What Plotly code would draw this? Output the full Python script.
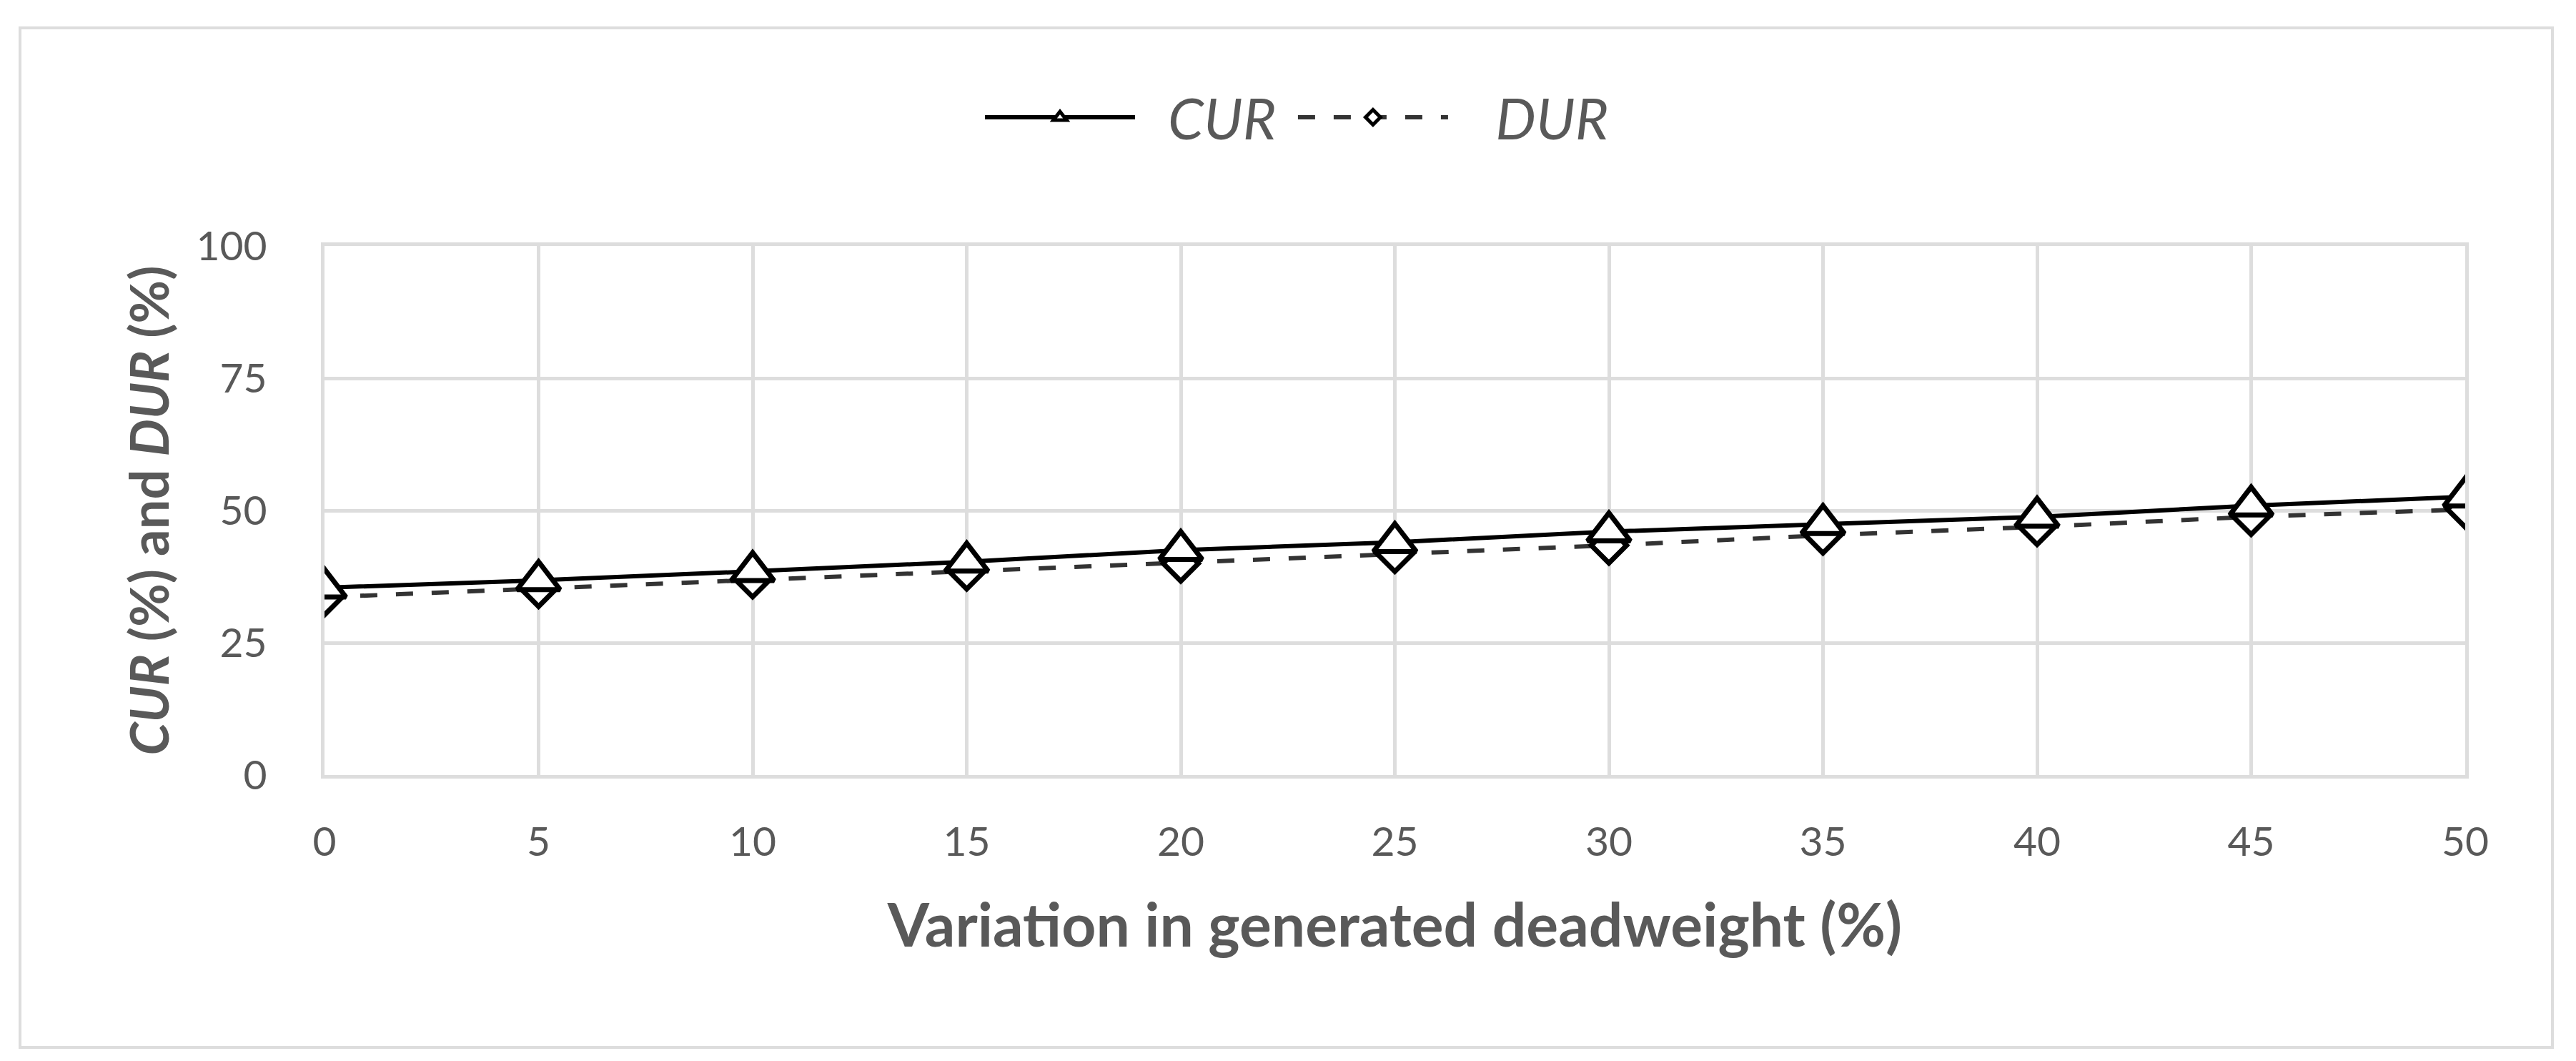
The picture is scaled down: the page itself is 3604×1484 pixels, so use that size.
import plotly.graph_objects as go

x_vals = [0, 5, 10, 15, 20, 25, 30, 35, 40, 45, 50]
cur_vals = [35.4, 36.8, 38.5, 40.3, 42.5, 44.0, 46.0, 47.4, 48.8, 50.9, 52.6]
dur_vals = [33.6, 35.2, 37.0, 38.5, 40.0, 41.8, 43.4, 45.3, 46.9, 48.8, 50.2]
x_ticks = [0, 5, 10, 15, 20, 25, 30, 35, 40, 45, 50]
y_ticks = [0, 25, 50, 75, 100]

W, H = 3604, 1484
L, R, T, B = 446, 3604 - 3441, 336, 1484 - 1076
pw, ph = W - L - R, H - T - B

def px(xp):
    return (xp - L) / pw

def py(yp):
    return (H - B - yp) / ph

FONT = "Lato"
GRAY = "#595959"
GRID = "#dddddd"
NB = "\u00a0"

fig = go.Figure()
# DUR drawn first so the CUR triangles sit on top (as in the reference)
fig.add_trace(go.Scatter(
    x=x_vals, y=dur_vals, name=NB * 3 + "<i>DUR</i>", mode="lines+markers", legendrank=2,
    line=dict(color="#333333", width=6, dash="24px,26px"),
    marker=dict(symbol="diamond", size=38, color="white",
                line=dict(color="black", width=7)),
))
fig.add_trace(go.Scatter(
    x=x_vals, y=cur_vals, name=NB * 2 + "<i>CUR</i>" + NB, mode="lines+markers", legendrank=1,
    line=dict(color="black", width=6),
    marker=dict(symbol="triangle-up", size=52, color="white",
                line=dict(color="black", width=7)),
))

fig.update_layout(
    width=W, height=H,
    margin=dict(l=L, r=R, t=T, b=B),
    paper_bgcolor="white", plot_bgcolor="white",
    font=dict(family=FONT, color=GRAY, size=57),
    showlegend=True,
    legend=dict(orientation="h", x=px(1365), y=py(156), xanchor="left", yanchor="middle",
                font=dict(size=80, color=GRAY), traceorder="normal", itemwidth=210,
                bgcolor="rgba(0,0,0,0)"),
    xaxis=dict(
        range=[0, 50], tickvals=x_ticks, showgrid=True, gridcolor=GRID, gridwidth=5,
        zeroline=False, showline=True, linecolor=GRID, linewidth=5, mirror=True,
        ticks="", ticklabelstandoff=40, tickfont=dict(size=57, color=GRAY),
        title=dict(text="<b>Variation in generated deadweight (%)</b>",
                   font=dict(size=84, color=GRAY), standoff=58),
        automargin=False,
    ),
    yaxis=dict(
        range=[0, 100], tickvals=y_ticks, showgrid=True, gridcolor=GRID, gridwidth=5,
        zeroline=False, showline=True, linecolor=GRID, linewidth=5, mirror=True,
        ticks="", ticklabelstandoff=64, tickfont=dict(size=57, color=GRAY),
        title=dict(text="<b><i>CUR</i> (%) and <i>DUR</i> (%)</b>",
                   font=dict(size=74, color=GRAY), standoff=15),
        automargin=False,
    ),
    shapes=[dict(type="rect", xref="paper", yref="paper",
                 x0=px(20), x1=px(3563), y0=py(1457), y1=py(31),
                 line=dict(color=GRID, width=4), fillcolor="rgba(0,0,0,0)", layer="below")],
)

fig.write_html("out.html")
